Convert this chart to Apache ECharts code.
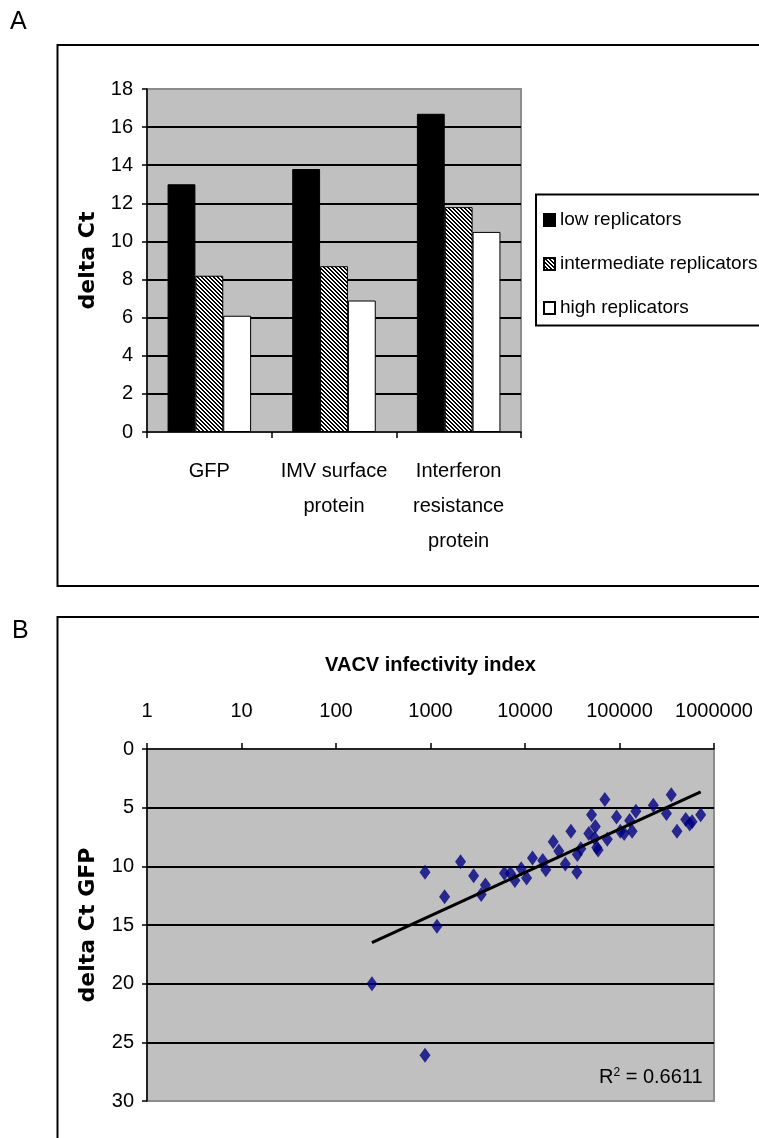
<!DOCTYPE html>
<html><head><meta charset="utf-8">
<script src="https://cdn.jsdelivr.net/npm/echarts@6/dist/echarts.min.js"></script>
<style>html,body{margin:0;padding:0;background:#fff}#chart{width:759px;height:1138px}</style>
</head><body><div id="chart"></div>
<script>
// ---------- Panel A data ----------
const categories = ['GFP', 'IMV surface\nprotein', 'Interferon\nresistance\nprotein'];
const seriesNames = ['low replicators', 'intermediate replicators', 'high replicators'];
const lowReplicators = [13.0, 13.8, 16.7];
const intermediateReplicators = [8.2, 8.7, 11.8];
const highReplicators = [6.1, 6.9, 10.5];
const barYTicks = [0, 2, 4, 6, 8, 10, 12, 14, 16, 18];

// ---------- Panel B data ----------
const infectivityIndex = [240, 875, 875, 1170, 1410, 2080, 2860, 3440, 3810, 6060,
  7010, 7820, 9120, 10400, 12000, 15400, 16600, 19900, 22800, 26700,
  30600, 35400, 35800, 39000, 47300, 50600, 55500, 54800, 57500, 70000,
  93000, 102000, 112000, 128000, 136000, 149000, 228000, 314000, 353000, 406000,
  502000, 553000, 586000, 723000, 74300, 59400];
const deltaCtGFP = [20.0, 26.1, 10.5, 15.1, 12.6, 9.6, 10.8, 12.4, 11.6, 10.6,
  10.6, 11.2, 10.2, 11.0, 9.3, 9.5, 10.3, 7.9, 8.7, 9.8,
  7.0, 10.5, 9.0, 8.5, 7.2, 5.6, 6.6, 7.6, 8.4, 4.3,
  5.8, 7.0, 7.2, 6.1, 7.0, 5.3, 4.8, 5.5, 3.9, 7.0,
  6.0, 6.4, 6.2, 5.6, 7.7, 8.6];
const scatterXTicks = ['1', '10', '100', '1000', '10000', '100000', '1000000'];
const scatterYTicks = [0, 5, 10, 15, 20, 25, 30];
const trendInfectivity = [240, 723000];
const trendDeltaCt = [16.5, 3.65];
const rSquared = '0.6611';

const SANS = "'Liberation Sans', Arial, sans-serif";
const BOLDFONT = "'DejaVu Sans', 'Liberation Sans', Arial, sans-serif";

function hatch() {
  const c = document.createElement('canvas');
  c.width = 4; c.height = 4;
  const g = c.getContext('2d');
  g.fillStyle = '#fff'; g.fillRect(0, 0, 4, 4);
  g.fillStyle = '#000';
  for (let i = 0; i < 4; i++) { g.fillRect(i, i, 1, 1); g.fillRect((i + 1) % 4, i, 1, 1); }
  return c;
}

const chart = echarts.init(document.getElementById('chart'), null, { renderer: 'canvas' });
const axisBlack = { show: true, lineStyle: { color: '#000', width: 1.5 } };
const grid = { color: '#000', width: 2 };

const option = {
  animation: false,
  backgroundColor: '#fff',
  title: {
    text: 'R{sup|2} = ' + rSquared,
    left: 599, top: 1067,
    padding: 0,
    textStyle: {
      fontFamily: SANS, fontSize: 20, fontWeight: 'normal', color: '#000',
      rich: { sup: { fontFamily: SANS, fontSize: 12, verticalAlign: 'top', color: '#000' } }
    }
  },
  grid: [
    { left: 147, top: 89, width: 374, height: 343, show: true, backgroundColor: '#c0c0c0', borderColor: '#8c8c8c', borderWidth: 2 },
    { left: 147, top: 749, width: 567, height: 352, show: true, backgroundColor: '#c0c0c0', borderColor: '#8c8c8c', borderWidth: 2 }
  ],
  legend: {
    orient: 'vertical',
    left: 543, top: 208,
    padding: 0,
    itemWidth: 11, itemHeight: 12,
    itemGap: 20,
    icon: 'rect',
    data: seriesNames,
    textStyle: { fontFamily: SANS, fontSize: 19, color: '#000', lineHeight: 24 }
  },
  xAxis: [
    {
      type: 'category', gridIndex: 0, data: categories,
      axisLine: axisBlack,
      axisTick: { show: true, length: 6, lineStyle: { color: '#000', width: 1.5 } },
      axisLabel: { fontFamily: SANS, fontSize: 20, color: '#000', lineHeight: 35, margin: 22, interval: 0 },
      splitLine: { show: false }
    },
    {
      type: 'log', logBase: 10, gridIndex: 1, position: 'top', min: 1, max: 1000000,
      name: 'VACV infectivity index', nameLocation: 'middle', nameGap: 74,
      nameTextStyle: { fontFamily: SANS, fontSize: 20, fontWeight: 'bold', color: '#000' },
      axisLine: axisBlack,
      axisTick: { show: true, length: 6, lineStyle: { color: '#000', width: 1.5 } },
      minorTick: { show: false },
      axisLabel: {
        fontFamily: SANS, fontSize: 20, color: '#000', margin: 28,
        formatter: v => scatterXTicks[Math.round(Math.log10(v))]
      },
      splitLine: { show: false }
    }
  ],
  yAxis: [
    {
      type: 'value', gridIndex: 0,
      min: barYTicks[0], max: barYTicks[barYTicks.length - 1], interval: barYTicks[1] - barYTicks[0],
      name: 'delta Ct', nameLocation: 'middle', nameGap: 48,
      nameTextStyle: { fontFamily: BOLDFONT, fontSize: 22, fontWeight: 'bold', color: '#000' },
      axisLine: axisBlack,
      axisTick: { show: true, length: 5, lineStyle: { color: '#000', width: 1.5 } },
      axisLabel: { fontFamily: SANS, fontSize: 20, color: '#000', margin: 14 },
      splitLine: { show: true, showMinLine: false, showMaxLine: false, lineStyle: grid }
    },
    {
      type: 'value', gridIndex: 1, inverse: true,
      min: scatterYTicks[0], max: scatterYTicks[scatterYTicks.length - 1], interval: scatterYTicks[1] - scatterYTicks[0],
      name: 'delta Ct GFP', nameLocation: 'middle', nameGap: 48,
      nameTextStyle: { fontFamily: BOLDFONT, fontSize: 22, fontWeight: 'bold', color: '#000' },
      axisLine: axisBlack,
      axisTick: { show: true, length: 5, lineStyle: { color: '#000', width: 1.5 } },
      axisLabel: { fontFamily: SANS, fontSize: 20, color: '#000', margin: 13 },
      splitLine: { show: true, showMinLine: false, showMaxLine: false, lineStyle: grid }
    }
  ],
  series: [
    {
      name: seriesNames[0], type: 'bar', xAxisIndex: 0, yAxisIndex: 0, data: lowReplicators,
      barGap: '0%', barCategoryGap: '33%',
      itemStyle: { color: '#000', borderColor: '#000', borderWidth: 1 }
    },
    {
      name: seriesNames[1], type: 'bar', xAxisIndex: 0, yAxisIndex: 0, data: intermediateReplicators,
      barGap: '0%', barCategoryGap: '33%',
      itemStyle: { color: { image: hatch(), repeat: 'repeat' }, borderColor: '#000', borderWidth: 1 }
    },
    {
      name: seriesNames[2], type: 'bar', xAxisIndex: 0, yAxisIndex: 0, data: highReplicators,
      barGap: '0%', barCategoryGap: '33%',
      itemStyle: { color: '#fff', borderColor: '#000', borderWidth: 1 }
    },
    {
      name: 'deltaCt', type: 'scatter', xAxisIndex: 1, yAxisIndex: 1,
      data: infectivityIndex.map((x, i) => [x, deltaCtGFP[i]]),
      symbol: 'diamond', symbolSize: [11, 15],
      itemStyle: { color: '#000080' }, z: 2
    },
    {
      name: 'trend', type: 'line', xAxisIndex: 1, yAxisIndex: 1,
      data: trendInfectivity.map((x, i) => [x, trendDeltaCt[i]]),
      showSymbol: false, symbol: 'none', silent: true,
      lineStyle: { color: '#000', width: 3 }, z: 3
    }
  ],
  graphic: [
    { type: 'text', left: 10, top: 10, style: { text: 'A', font: "25px 'Liberation Sans', Arial, sans-serif", fill: '#000' } },
    { type: 'text', left: 12, top: 619, style: { text: 'B', font: "25px 'Liberation Sans', Arial, sans-serif", fill: '#000' } },
    { type: 'rect', shape: { x: 57.5, y: 45, width: 800, height: 541 }, style: { fill: 'none', stroke: '#000', lineWidth: 2 } },
    { type: 'rect', shape: { x: 57.5, y: 617, width: 800, height: 700 }, style: { fill: 'none', stroke: '#000', lineWidth: 2 } },
    { type: 'rect', shape: { x: 536, y: 194.5, width: 300, height: 131 }, style: { fill: 'none', stroke: '#000', lineWidth: 2 } }
  ]
};
chart.setOption(option);
</script>
</body></html>
